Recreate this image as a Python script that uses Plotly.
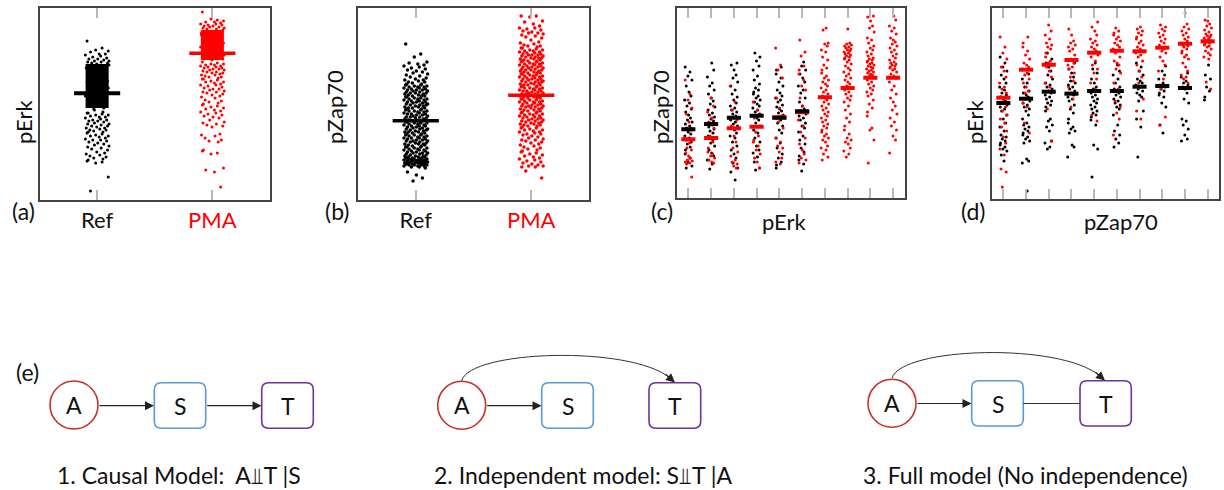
import plotly.graph_objects as go

# ---------- data (heights above each panel's bottom edge) ----------
cats_ab = ["Ref", "PMA"]
a_means = [106.7, 146.7]
b_means = [79.3, 104.7]
a_core_low = [92, 140]
a_core_high = [136, 170]

a_ref = [159,152,150,149,148,146,146,145,144,143,142,141,141,140,139,139,138,138,137,137,
         136,134,132,130,128,126,124,122,120,118,116,114,112,110,108,106,104,102,100,98,96,94,92,90,
         135,131,127,123,119,115,111,107,103,99,95,91,
         88,87,87,86,85,85,84,83,83,82,81,80,80,79,79,78,77,76,76,75,74,74,73,72,72,71,70,70,69,68,68,
         67,66,65,64,64,63,62,61,60,60,59,58,57,56,55,54,53,52,51,50,48,47,46,45,44,43,42,41,40,39,38,37,23,9]
a_pma = [188,180,181,179,178,178,177,176,176,175,175,174,174,173,173,172,172,171,171,
         170,169,168,167,166,165,164,163,162,161,160,159,158,157,156,155,154,153,152,151,150,149,148,147,146,145,144,143,142,141,140,
         169,165,161,157,153,149,145,141,
         138,137,136,136,135,135,134,134,133,133,132,132,131,131,130,130,129,128,128,127,127,126,125,125,124,123,123,122,121,121,
         120,119,118,118,117,116,115,115,114,113,112,111,111,110,109,108,108,107,106,105,104,103,102,100,99,98,97,96,95,94,93,92,91,
         90,89,88,87,86,85,84,83,82,80,78,77,76,75,74,73,66,65,64,62,60,59,58,50,49,47,46,32,30,28,13]
b_ref = [156,146,143,138,137,136,135,134,133,132,131,130,129,128,127,126,125,124,123,122,121,120,120,119,118,118,117,116,116,115,115,
         114,114,113,113,113,112,112,111,111,110,110,110,109,109,108,108,107,107,107,106,106,105,105,104,104,104,103,103,102,102,101,101,101,
         100,100,99,99,98,98,98,97,97,96,96,95,95,95,94,94,93,93,92,92,92,91,91,90,90,89,89,89,88,88,87,87,86,86,86,85,85,84,84,83,83,83,
         82,82,81,81,80,80,80,79,79,78,78,77,77,77,76,76,75,75,74,74,74,73,73,72,72,71,71,71,70,70,69,69,68,68,68,67,67,66,66,65,65,65,
         64,64,63,63,62,62,62,61,61,60,60,59,59,59,58,58,57,57,56,56,56,55,55,54,54,53,53,53,52,52,51,51,50,50,50,49,49,48,48,47,47,47,
         46,46,45,45,44,44,44,43,43,43,42,42,42,42,41,41,41,41,40,40,40,40,40,39,39,39,39,39,38,38,38,38,38,37,37,37,37,37,36,36,36,36,36,35,35,35,35,34,34,34,33,33,32,28,25,22,19]
b_pma = [184,184,183,179,178,176,174,172,172,171,170,169,168,167,167,166,165,164,163,162,160,158,157,156,
         155,154,154,153,152,152,151,150,150,149,149,148,148,147,147,146,146,145,145,145,144,144,143,143,142,142,142,141,141,140,140,139,139,139,
         138,138,137,137,136,136,136,135,135,134,134,133,133,133,132,132,131,131,130,130,130,129,129,128,128,127,127,127,126,126,125,125,124,124,124,
         123,123,122,122,121,121,121,120,120,119,119,118,118,118,117,117,116,116,115,115,115,114,114,113,113,112,112,112,111,111,110,110,109,109,109,
         108,108,107,107,106,106,106,105,105,104,104,103,103,102,102,102,101,101,100,100,99,99,98,98,98,97,97,96,96,95,95,94,94,94,
         93,93,92,92,91,91,90,90,89,89,88,88,87,87,86,86,85,85,84,84,83,83,82,82,81,81,80,80,79,79,78,78,77,77,76,76,75,75,74,74,73,72,72,71,70,70,
         69,68,68,67,66,66,65,64,63,62,61,60,60,59,58,57,56,55,54,53,52,51,50,49,48,47,46,45,44,43,42,41,40,39,38,37,36,35,34,34,33,33,29,22]

c_means_black = [68.7, 74, 80.3, 82.3, 80.3, 86.7]
c_means_red = [58.7, 60, 69.7, 71.3, 80.7, 85.7, 100.7, 110, 120.3, 120.3]
c_black = [
    [131,126,122,118,112,106,102,98,95,92,89,86,83,80,78,76,74,72,70,68,66,64,62,60,58,56,54,51,48,44,40,36,32,30],
    [135,128,121,115,112,108,104,100,97,94,91,88,85,83,81,79,77,75,73,71,69,67,65,62,60,58,55,52,48,45,42,38,34,29],
    [135,133,128,123,120,116,112,108,104,101,98,95,92,90,88,86,84,82,80,78,76,74,72,70,68,65,62,60,56,52,48,44,40,35,30,26,18],
    [145,141,137,132,128,122,118,114,110,108,106,104,102,100,98,96,94,92,90,88,86,84,82,80,78,75,72,68,65,60,56,52,48,45,41,36,30,28],
    [131,128,124,120,116,112,108,105,102,100,98,96,93,91,89,87,85,83,80,78,75,72,68,65,60,55,50,44,40,36,33,30],
    [136,132,128,124,120,116,112,108,105,100,96,92,89,87,84,82,80,78,75,72,70,66,62,58,54,50,46,42,38,34,27],
]
c_red = [
    [118,104,98,90,84,76,70,60,55,50,48,45,42,40,38,37,36,35,34,21],
    [100,92,86,80,76,70,62,56,50,46,44,42,40,38,36,35],
    [112,96,88,78,72,62,56,50,46,42,38,36,34,32,30],
    [96,88,80,72,66,62,58,56,52,48,44,40,36,30],
    [150,133,128,120,100,90,82,76,70,60,56,52,50,46,40,36,34],
    [158,146,142,132,128,124,118,112,108,100,92,86,78,72,66,60,54,48,44,40,38,35],
    [170,168,155,154,152,148,146,141,138,133,130,128,125,122,120,118,116,114,112,110,108,106,104,102,100,98,96,94,92,90,88,86,84,82,80,78,76,74,72,70,68,66,64,62,60,58,56,52,50,48,44,41,38],
    [169,155,154,153,152,151,150,149,148,147,146,145,144,143,142,141,140,139,138,136,134,132,130,128,126,124,122,120,118,116,114,112,110,108,106,104,102,100,98,96,92,88,84,80,76,72,68,64,60,58,56,54,50,47,44,41],
    [182,181,177,172,170,166,160,158,155,152,150,148,146,144,142,140,139,138,137,136,135,134,133,132,131,130,129,128,127,126,125,124,123,122,120,118,116,114,112,110,108,106,104,102,98,94,90,86,82,70,68,58,35],
    [182,178,172,170,167,164,160,158,156,154,152,150,148,146,144,142,140,138,136,135,134,133,132,131,130,129,128,126,124,122,120,116,112,108,104,100,96,92,88,84,80,76,72,68,62,58,45],
]
d_means_black = [96, 100.3, 107.3, 105.3, 108, 108, 112.3, 113, 111]
d_means_red = [101.3, 129.3, 134.3, 139, 146.3, 148.3, 147.7, 151.3, 155.3, 157.7]
d_black = [
    [142,136,132,128,124,120,116,112,109,106,104,102,100,98,96,94,92,90,88,84,80,76,72,68,64,62,60,58,56,54,52,50,48,44,38],
    [125,120,116,112,108,106,104,102,100,98,96,94,92,90,88,84,80,76,74,72,70,68,66,64,62,60,58,56,40,38,36,8],
    [146,140,136,132,128,124,120,116,114,112,110,108,106,104,102,100,98,96,94,92,88,80,78,74,72,68,58,56,52,50],
    [136,130,126,122,118,116,114,112,110,108,106,104,102,100,98,94,90,86,80,76,72,70,68,66,54,52,42],
    [136,130,126,120,116,112,110,108,106,104,102,100,98,96,94,92,90,88,86,84,82,79,74,54,50,22],
    [134,128,124,120,116,112,110,108,106,104,102,100,98,96,94,92,90,84,74,68,64,60,56,52],
    [136,132,128,124,120,118,116,114,112,110,108,106,104,102,98,88,80,72,42],
    [133,128,124,120,116,114,112,110,108,106,104,102,96,92,74,66],
    [126,122,118,116,114,112,110,106,100,96,80,78,74,70,64,60,58],
    [134,124,120,112,108,102,99],
]
d_red = [
    [162,152,146,140,132,128,122,116,112,110,106,102,98,92,88,84,80,76,72,68,62,56,50,44,30,27,12],
    [162,156,152,148,144,140,136,134,132,130,126,124,120,116,112,108,106,100,96,92,76,66],
    [174,168,164,160,156,154,152,150,146,142,138,136,134,132,128,122,116,112,90,58],
    [170,164,158,156,154,152,150,148,144,140,136,134,132,130,126,122,118,112,106,100,92],
    [177,172,168,164,160,158,156,154,152,150,148,146,144,142,138,134,130,126,120,116,110,84,78],
    [171,168,166,164,162,160,158,156,154,152,150,148,146,142,138,136,134,130,126,116,110,98,92,86,80,64],
    [172,170,168,166,164,162,160,158,156,154,152,150,148,146,144,142,138,134,128,122,116,100,88,80],
    [174,172,170,168,166,164,162,160,158,156,154,152,150,148,146,142,138,134,128,120,110,82,74],
    [186,175,172,170,168,166,164,162,160,158,156,155,154,153,152,150,148,146,144,142,140,136,132,128,124,122,120,116],
    [179,178,175,173,171,169,167,165,164,163,162,161,160,159,158,157,156,155,154,153,152,150,148,146,144,142,140,117,110],
]
JITTER = [-0.83,0.41,-0.12,0.92,-0.55,0.17,0.68,-0.97,0.29,-0.36,0.79,-0.68,0.05,0.55,-0.22,
          0.98,-0.78,0.33,-0.45,0.86,-0.03,0.62,-0.9,0.22,-0.6,0.74,-0.28,0.48,-0.74]

captions = ["1. Causal Model:  A\u2AEBT |S", "2. Independent model: S\u2AEBT |A", "3. Full model (No independence)"]

# ---------- layout helpers ----------
W, H = 1224, 490
BLACK, RED = "#000000", "#ff0000"
TXT = "#111111"
FONT = "Lato, Carlito, 'Open Sans', sans-serif"
fig = go.Figure()


def spread(groups, half):
    xs, ys = [], []
    k = 0
    for i, vals in groups:
        for v in vals:
            xs.append(i + JITTER[k % len(JITTER)] * half)
            ys.append(v)
            k += 1
    return xs, ys


def dots(groups, half, color, ax, size):
    xs, ys = spread(groups, half)
    fig.add_trace(go.Scatter(x=xs, y=ys, mode="markers", xaxis="x" + ax, yaxis="y" + ax, showlegend=False,
                             marker=dict(color=color, size=size, line_width=0)))


def means(vals, half, color, ax, width):
    xs, ys = [], []
    for i, v in enumerate(vals):
        xs += [i - half, i + half, None]
        ys += [v, v, None]
    fig.add_trace(go.Scatter(x=xs, y=ys, mode="lines", xaxis="x" + ax, yaxis="y" + ax, showlegend=False,
                             line=dict(color=color, width=width)))


def core(i, low, high, half, color, ax):
    fig.add_trace(go.Bar(x=[i], y=[high - low], base=[low], width=[2 * half], xaxis="x" + ax, yaxis="y" + ax,
                         showlegend=False, marker=dict(color=color, line_width=0)))


# panels a, b
core(0, a_core_low[0], a_core_high[0], 0.1, BLACK, "")
core(1, a_core_low[1], a_core_high[1], 0.1, RED, "")
dots([(0, a_ref)], 0.105, BLACK, "", 3)
dots([(1, a_pma)], 0.105, RED, "", 3)
means(a_means[:1], 0.2, BLACK, "", 4)
fig.add_trace(go.Scatter(x=[0.8, 1.2], y=[a_means[1]] * 2, mode="lines", showlegend=False, line=dict(color=RED, width=3.5)))

dots([(0, b_ref)], 0.105, BLACK, "2", 3.5)
dots([(1, b_pma)], 0.105, RED, "2", 3.5)
means(b_means[:1], 0.2, BLACK, "2", 3.5)
fig.add_trace(go.Scatter(x=[0.8, 1.2], y=[b_means[1]] * 2, mode="lines", xaxis="x2", yaxis="y2", showlegend=False,
                         line=dict(color=RED, width=3.5)))

# panels c, d
dots(list(enumerate(c_black)), 0.17, BLACK, "3", 3)
dots(list(enumerate(c_red)), 0.17, RED, "3", 3)
means(c_means_red, 0.31, RED, "3", 4)
means(c_means_black, 0.31, BLACK, "3", 4)
dots(list(enumerate(d_black)), 0.17, BLACK, "4", 3)
dots(list(enumerate(d_red)), 0.17, RED, "4", 3)
means(d_means_red, 0.31, RED, "4", 4)
means(d_means_black, 0.31, BLACK, "4", 4)


def xaxis(x0, x1, anchor, rng, vals, texts=None):
    return dict(domain=[x0 / W, x1 / W], anchor=anchor, range=rng, tickmode="array", tickvals=vals,
                ticktext=texts if texts else [""] * len(vals), ticks="inside", ticklen=10, tickwidth=1.5, tickcolor="#b8b8b8",
                showline=True, linecolor="#444444", linewidth=1.6, mirror="ticks", showgrid=False, zeroline=False,
                tickfont=dict(size=22, color=TXT, family=FONT))


def yaxis(y0, y1, anchor, top):
    return dict(domain=[1 - y1 / H, 1 - y0 / H], anchor=anchor, range=[0, top], showticklabels=False, ticks="",
                showline=True, linecolor="#444444", linewidth=1.6, mirror=True, showgrid=False, zeroline=False)


labels_ab = ["Ref", "<span style='color:#ff0000'>PMA</span>"]
fig.update_layout(
    width=W, height=H, margin=dict(l=0, r=0, t=0, b=0), paper_bgcolor="white", plot_bgcolor="rgba(0,0,0,0)",
    showlegend=False, barmode="overlay", hovermode=False, font=dict(family=FONT, color=TXT),
    xaxis=xaxis(39.5, 270, "y", [-0.5, 1.5], [0, 1], labels_ab),
    yaxis=yaxis(8, 200, "x", 192),
    xaxis2=xaxis(358, 589, "y2", [-0.5, 1.5], [0, 1], labels_ab),
    yaxis2=yaxis(8, 200, "x2", 192),
    xaxis3=xaxis(677, 904.5, "y3", [-0.5, 9.5], list(range(10))),
    yaxis3=yaxis(8, 198, "x3", 190),
    xaxis4=xaxis(992, 1219, "y4", [-0.5, 9.5], list(range(10))),
    yaxis4=yaxis(8, 199, "x4", 191),
    # full-figure overlay, one unit per pixel, for the diagram in (e)
    xaxis5=dict(domain=[0, 1], range=[0, W], visible=False, anchor="y5", fixedrange=True),
    yaxis5=dict(domain=[0, 1], range=[H, 0], visible=False, anchor="x5", fixedrange=True),
)
fig.add_trace(go.Scatter(x=[0], y=[0], xaxis="x5", yaxis="y5", mode="markers", marker=dict(opacity=0), showlegend=False))

annos = []


def text(x, y, s, size=22, angle=0, color=TXT, anchor="center"):
    annos.append(dict(x=x, y=y, xref="x5", yref="y5", text=s, showarrow=False, textangle=angle,
                      font=dict(size=size, color=color, family=FONT), xanchor=anchor, yanchor="middle"))


for px, py, s in [(23, 211, "(a)"), (337, 211, "(b)"), (662, 211, "(c)"), (973, 211, "(d)"), (27, 372, "(e)")]:
    text(px, py, s, size=23)
for px, py, s in [(23, 122, "pErk"), (334, 107, "pZap70"), (660, 107, "pZap70"), (974, 122, "pErk")]:
    text(px, py, s, angle=-90)
text(784, 221, "pErk")
text(1121, 221, "pZap70")

shapes = []
def circle(cx, cy, r=24):
    shapes.append(dict(type="circle", xref="x5", yref="y5", x0=cx - r, x1=cx + r, y0=cy - r, y1=cy + r,
                       line=dict(color="#c9302c", width=1.6), fillcolor="white", layer="above"))


def rrect(x0, y0, x1, y1, color, r=7):
    p = (f"M {x0+r} {y0} L {x1-r} {y0} Q {x1} {y0} {x1} {y0+r} L {x1} {y1-r} Q {x1} {y1} {x1-r} {y1} "
         f"L {x0+r} {y1} Q {x0} {y1} {x0} {y1-r} L {x0} {y0+r} Q {x0} {y0} {x0+r} {y0} Z")
    shapes.append(dict(type="path", path=p, xref="x5", yref="y5", line=dict(color=color, width=1.6),
                       fillcolor="white", layer="above"))


def arrow(x0, y0, x1, y1):
    annos.append(dict(x=x1, y=y1, ax=x0, ay=y0, xref="x5", yref="y5", axref="x5", ayref="y5", text="", showarrow=True,
                      arrowhead=2, arrowsize=1.5, arrowwidth=1.2, arrowcolor="#222222", standoff=0))


def curve(x0, y0, cx0, cy0, cx1, cy1, x1, y1):
    shapes.append(dict(type="path", path=f"M {x0} {y0} C {cx0} {cy0} {cx1} {cy1} {x1} {y1}", xref="x5", yref="y5",
                       line=dict(color="#333333", width=1), layer="above"))


BLUE, PURPLE = "#5b9bd5", "#7030a0"
# model 1
circle(74, 405)
rrect(154.3, 382.7, 205.7, 428.3, BLUE)
rrect(261.7, 382.7, 313.3, 428.3, PURPLE)
arrow(98, 405.7, 154, 405.7)
arrow(205.7, 405.7, 261.5, 405.7)
# model 2
circle(461.7, 405.3)
rrect(541.7, 382.7, 593.3, 428.3, BLUE)
rrect(649, 382.7, 700.7, 428.3, PURPLE)
arrow(485.7, 405.7, 541.5, 405.7)
curve(461.7, 380.7, 470, 350, 630, 345, 670, 378)
arrow(664, 373, 675, 382.5)
# model 3
circle(892, 403.3)
rrect(971.7, 380.7, 1023.3, 426, BLUE)
rrect(1080, 380.7, 1131.3, 426, PURPLE)
arrow(916, 403.5, 971.5, 403.5)
shapes.append(dict(type="line", xref="x5", yref="y5", x0=1023.3, x1=1080, y0=403.5, y1=403.5,
                   line=dict(color="#333333", width=1), layer="above"))
curve(892, 378, 902, 347, 1060, 342, 1100, 376)
arrow(1094, 371, 1105, 380.5)

for (cx, cy, s) in [(74, 405, "A"), (180, 405.5, "S"), (287.5, 405.5, "T"), (461.7, 405, "A"), (567.5, 405.5, "S"),
                    (675, 405.5, "T"), (892, 403, "A"), (997.5, 403.5, "S"), (1105.5, 403.5, "T")]:
    text(cx, cy, s, size=23)
text(55, 475, captions[0], size=23, anchor="left")
text(431.7, 475, captions[1], size=23, anchor="left")
text(860.7, 475, captions[2], size=23, anchor="left")

fig.update_layout(annotations=annos, shapes=shapes)
fig.write_html("out.html", config=dict(displayModeBar=False),
               post_script="document.body.style.margin='0';document.body.style.overflow='hidden';")
